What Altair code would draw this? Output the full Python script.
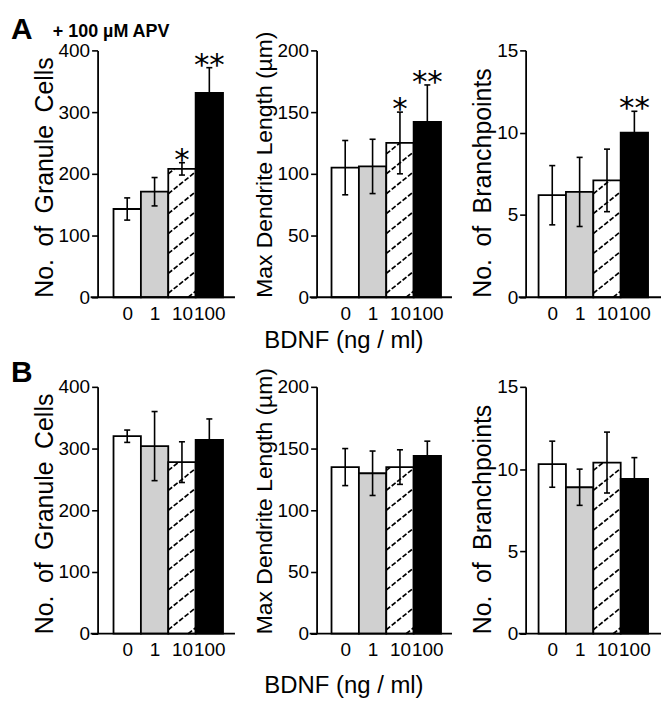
import altair as alt
import pandas as pd

# ---------------- data ----------------
doses = ["0", "1", "10", "100"]

a_cells = [143, 171, 208, 331]
a_cells_err = [18, 23, 10, 41]
a_cells_sig = ["", "", "*", "**"]

a_len = [105, 106, 125, 142]
a_len_err = [22, 22, 25, 30]
a_len_sig = ["", "", "*", "**"]

a_bp = [6.2, 6.4, 7.1, 10.0]
a_bp_err = [1.8, 2.1, 1.9, 1.3]
a_bp_sig = ["", "", "", "**"]

b_cells = [320, 304, 278, 314]
b_cells_err = [10, 56, 33, 34]

b_len = [135, 130, 135, 144]
b_len_err = [15, 18, 14, 12]

b_bp = [10.3, 8.9, 10.4, 9.4]
b_bp_err = [1.4, 1.1, 1.85, 1.3]

no_sig = ["", "", "", ""]

y_titles = ["No.\u2002of\u2002Granule\u2002Cells",
            "Max Dendrite Length (\u00b5m)",
            "No.\u2002of\u2002Branchpoints"]
x_title = "BDNF (ng / ml)"
row_letters = ["A", "B"]
condition_note = "+ 100 \u00b5M APV"

# ---------------- style ----------------
patterns = ["open", "dots", "hatch", "solid"]
pattern_fill = {"open": "white", "dots": "#d0d0d0", "hatch": "white", "solid": "black"}
FONT = "Liberation Sans"
BAR_PX = 27.5
H = 248
HATCH_GAP = 20
HATCH_SLOPE = 0.8

# column geometry: width, y-axis offset, pad before first bar, y-title size
cols = [dict(width=138, off=0, pad=16, tsize=25),
        dict(width=144, off=-8, pad=23, tsize=23),
        dict(width=136, off=0, pad=13, tsize=25)]


def hatch_segments(vals, ymax):
    ppu = H / ymax
    rows = []
    for k, p in enumerate(patterns):
        if p != "hatch":
            continue
        hpx = vals[k] * ppu
        t = -HATCH_SLOPE * BAR_PX + 6
        while t < hpx:
            xa = max(0.0, -t / HATCH_SLOPE)
            xb = min(BAR_PX, (hpx - t) / HATCH_SLOPE)
            if xb - xa > 1:
                rows.append({
                    "hx1": k - 0.5 + xa / BAR_PX, "hy1": (t + HATCH_SLOPE * xa) / ppu,
                    "hx2": k - 0.5 + xb / BAR_PX, "hy2": (t + HATCH_SLOPE * xb) / ppu,
                })
            t += HATCH_GAP
    return pd.DataFrame(rows)


def panel(vals, errs, sig, ymax, ystep, ytitle, col, xtitle_y=None,
          letter=None, letter_y=-35, note=None, anchor=False):
    g = cols[col]
    width, off, pad = g["width"], g["off"], g["pad"]
    n = len(doses)
    x_lo = -0.5 - pad / BAR_PX
    x_hi = x_lo + width / BAR_PX
    xs = alt.Scale(domain=[x_lo, x_hi], nice=False, zero=False)
    ys = alt.Scale(domain=[0, ymax], nice=False)

    df = pd.DataFrame({"i": list(range(n)), "dose": doses, "v": vals, "e": errs,
                       "sig": sig, "fill": [pattern_fill[p] for p in patterns]})

    label_expr = "[" + ",".join("'%s'" % d for d in doses) + "][datum.value]"
    xkw = dict(values=list(range(n)), labelExpr=label_expr, ticks=False, domain=False,
               grid=False, labelFontSize=19, labelPadding=7, labelOverlap=False,
               labelFlush=False, labelColor="black", labelFont=FONT)
    if xtitle_y is not None:
        xkw.update(title=x_title, titleFontSize=24, titleFontWeight="normal", titleFont=FONT,
                   titleColor="black", titleX=35, titleY=xtitle_y, titleAlign="center",
                   titleBaseline="alphabetic")
    else:
        xkw.update(title="")
    xaxis = alt.Axis(**xkw)
    yaxis = alt.Axis(values=list(range(0, ymax + 1, ystep)), title=ytitle, offset=off,
                     tickSize=6, tickWidth=1.6, tickColor="black", domainColor="black",
                     domainWidth=1.8, labelFontSize=19, labelColor="black", labelPadding=2,
                     labelFont=FONT, titleFontSize=g["tsize"], titleFontWeight="normal",
                     titleColor="black", titleFont=FONT, titlePadding=1,
                     titleAnchor="start", grid=False)

    base = alt.Chart(df).transform_calculate(
        x0="datum.i - 0.5", x1="datum.i + 0.5",
        hi="datum.v + datum.e", lo="datum.v - datum.e",
        cl="datum.i - 0.11", cr="datum.i + 0.11")

    bars = base.mark_rect(stroke="black", strokeWidth=1.8).encode(
        x=alt.X("x0:Q", scale=xs, axis=xaxis), x2="x1:Q",
        y=alt.Y("v:Q", scale=ys, axis=yaxis), y2=alt.datum(0),
        fill=alt.Fill("fill:N", scale=None))

    hd = hatch_segments(vals, ymax)
    hatch = alt.Chart(hd).mark_rule(color="black", strokeWidth=1.7, strokeDash=[5, 2]).encode(
        x=alt.X("hx1:Q", scale=xs), y=alt.Y("hy1:Q", scale=ys),
        x2="hx2:Q", y2="hy2:Q")

    err = base.mark_rule(color="black", strokeWidth=1.6).encode(
        x=alt.X("i:Q", scale=xs), y=alt.Y("lo:Q", scale=ys), y2="hi:Q")
    cap_hi = base.mark_rule(color="black", strokeWidth=1.6).encode(
        x=alt.X("cl:Q", scale=xs), x2="cr:Q", y=alt.Y("hi:Q", scale=ys))
    cap_lo = base.mark_rule(color="black", strokeWidth=1.6).encode(
        x=alt.X("cl:Q", scale=xs), x2="cr:Q", y=alt.Y("lo:Q", scale=ys))

    stars = base.mark_text(font="DejaVu Sans", fontSize=31, dy=7,
                           baseline="alphabetic", align="center", color="black").encode(
        x=alt.X("i:Q", scale=xs), y=alt.Y("hi:Q", scale=ys), text="sig:N")

    one = pd.DataFrame({"k": [0]})
    xline = alt.Chart(one).mark_rule(color="black", strokeWidth=1.8).encode(
        x=alt.value(-off - 7), x2=alt.value(width), y=alt.value(H))

    layers = [bars, hatch, err, cap_hi, cap_lo, stars, xline]
    if anchor:
        # white corner marker pinning the page origin (top-left of the figure)
        layers.append(alt.Chart(one).mark_rule(color="white", strokeWidth=1).encode(
            x=alt.value(-89), x2=alt.value(-88), y=alt.value(-40)))
    if letter:
        layers.append(alt.Chart(pd.DataFrame({"t": [letter]})).mark_text(
            font=FONT, fontSize=30, fontWeight="bold", align="left", baseline="top",
            color="black").encode(x=alt.value(-87), y=alt.value(letter_y), text="t:N"))
    if note:
        layers.append(alt.Chart(pd.DataFrame({"t": [note]})).mark_text(
            font=FONT, fontSize=18, fontWeight="bold", align="left", baseline="alphabetic",
            color="black").encode(x=alt.value(-45), y=alt.value(-13), text="t:N"))
    return alt.layer(*layers).properties(width=width, height=H)


a1 = panel(a_cells, a_cells_err, a_cells_sig, 400, 100, y_titles[0], 0,
           letter=row_letters[0], letter_y=-35, note=condition_note, anchor=True)
a2 = panel(a_len, a_len_err, a_len_sig, 200, 50, y_titles[1], 1, xtitle_y=50)
a3 = panel(a_bp, a_bp_err, a_bp_sig, 15, 5, y_titles[2], 2)
b1 = panel(b_cells, b_cells_err, no_sig, 400, 100, y_titles[0], 0,
           letter=row_letters[1], letter_y=-29)
b2 = panel(b_len, b_len_err, no_sig, 200, 50, y_titles[1], 1, xtitle_y=59)
b3 = panel(b_bp, b_bp_err, no_sig, 15, 5, y_titles[2], 2)

chart = alt.concat(a1, a2, a3, b1, b2, b3, columns=3,
                   spacing={"row": 90, "column": 74}, bounds="flush").properties(
    padding={"left": 0, "top": 0, "right": 0, "bottom": 0},
    background="white"
).configure_view(stroke=None)

chart.save("out.html", embed_options={"renderer": "svg", "actions": False})
